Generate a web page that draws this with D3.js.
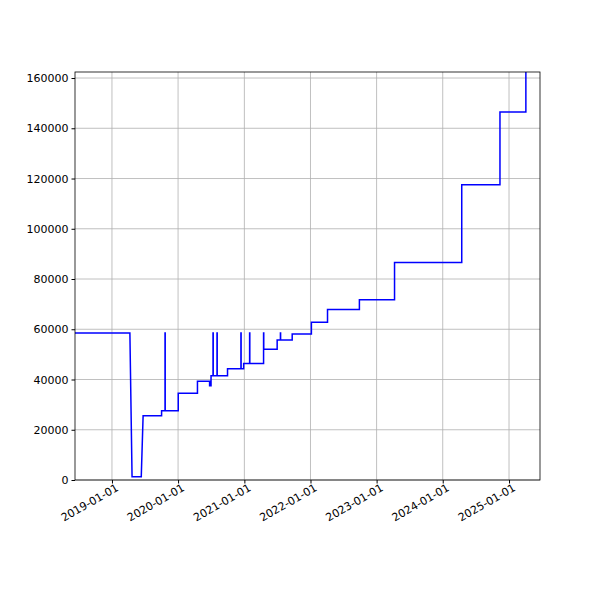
<!DOCTYPE html>
<html><head><meta charset="utf-8">
<script src="https://cdn.jsdelivr.net/npm/d3@7"></script>
<style>body{margin:0;background:#fff}svg{font-family:"DejaVu Sans",sans-serif}</style>
</head><body><svg id="c" width="600" height="600"></svg>
<script>
const dates = ["2018-06-01","2019-04-10","2019-04-22","2019-06-12","2019-06-22","2019-10-02","2019-10-21","2019-10-22","2020-01-02","2020-04-17","2020-06-23","2020-07-01","2020-07-12","2020-07-13","2020-08-03","2020-08-04","2020-09-30","2020-12-13","2020-12-14","2020-12-28","2021-01-30","2021-01-31","2021-04-17","2021-04-18","2021-07-01","2021-07-19","2021-07-20","2021-09-22","2022-01-06","2022-04-05","2022-09-28","2023-04-10","2024-04-15","2024-11-12","2025-04-04","2025-06-25"];
const values = [58500,58500,1300,1800,25600,27600,58500,27600,34500,39300,37500,41500,58500,41500,58500,41500,44300,58500,44300,46400,58500,46400,58500,52000,55700,58500,55700,58100,62800,67900,71700,86600,117500,146500,180000,180000];
const stepMode = [1,0,1,0,1,1,1,1,1,1,1,1,1,1,1,1,1,1,1,1,1,1,1,1,1,1,1,1,1,1,1,1,1,1,1,1];
const yTicks = [0,20000,40000,60000,80000,100000,120000,140000,160000];
const xTickLabels = ["2019-01-01","2020-01-01","2021-01-01","2022-01-01","2023-01-01","2024-01-01","2025-01-01"];

const p = d3.timeParse("%Y-%m-%d");
const data = dates.map((d,i)=>({d:p(d),v:values[i],s:stepMode[i]}));
const L=75,R=540,T=72,B=480;
const x=d3.scaleTime().domain([p("2018-06-11"),p("2025-06-21")]).range([L,R]);
const y=d3.scaleLinear().domain([0,162400]).range([B,T]);
const svg=d3.select("#c");
svg.append("defs").append("clipPath").attr("id","cp").append("rect").attr("x",L).attr("y",T).attr("width",R-L).attr("height",B-T);
const g=svg.append("g");
xTickLabels.forEach(t=>{const xx=x(p(t));g.append("line").attr("x1",xx).attr("x2",xx).attr("y1",T).attr("y2",B).attr("stroke","#b0b0b0").attr("stroke-width",0.8);});
yTicks.forEach(t=>{const yy=y(t);g.append("line").attr("x1",L).attr("x2",R).attr("y1",yy).attr("y2",yy).attr("stroke","#b0b0b0").attr("stroke-width",0.8);});
// build path: step-after except where stepMode=0 (straight segment to next)
let pts=[];
data.forEach((d,i)=>{
  pts.push([x(d.d),y(d.v)]);
  if(i<data.length-1 && d.s) pts.push([x(data[i+1].d),y(d.v)]);
});
svg.append("path").attr("clip-path","url(#cp)").attr("fill","none").attr("stroke","#0000ff").attr("stroke-width",1.5)
 .attr("d",d3.line()(pts));
svg.append("rect").attr("x",L).attr("y",T).attr("width",R-L).attr("height",B-T).attr("fill","none").attr("stroke","#000").attr("stroke-width",0.8);
const ya=svg.append("g").attr("transform",`translate(${L},0)`).call(d3.axisLeft(y).tickValues(yTicks).tickFormat(d3.format("d")).tickSize(3.5).tickSizeOuter(0));
ya.select(".domain").remove();
ya.selectAll("text").attr("font-size",11).attr("fill","#000").attr("font-family","DejaVu Sans");
const xa=svg.append("g").attr("transform",`translate(0,${B})`).call(d3.axisBottom(x).tickValues(xTickLabels.map(p)).tickFormat(d3.timeFormat("%Y-%m-%d")).tickSize(3.5).tickSizeOuter(0));
xa.select(".domain").remove();
xa.selectAll("text").attr("font-size",11).attr("fill","#000").attr("font-family","DejaVu Sans")
 .attr("text-anchor","end").attr("dy",0).attr("dx",0).attr("y",12).attr("x",1).attr("transform","rotate(-30)");
</script></body></html>
